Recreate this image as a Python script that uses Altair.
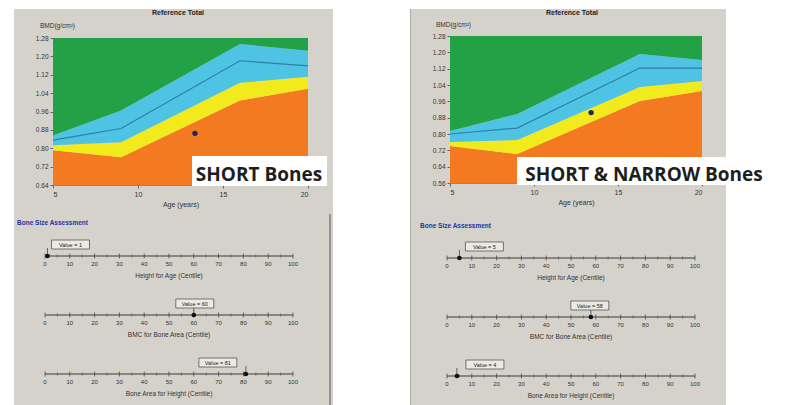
import altair as alt
import pandas as pd

# ---------------- data ----------------
bands = ["orange", "yellow", "cyan", "green"]
band_colors = ["#f47a21", "#f1ea1d", "#4ec3e3", "#22a146"]

xticks = [5, 10, 15, 20]
measures = ["Height for Age (Centile)", "BMC for Bone Area (Centile)", "Bone Area for Height (Centile)"]
centile_major = [0, 10, 20, 30, 40, 50, 60, 70, 80, 90, 100]
centile_minor = [5, 15, 25, 35, 45, 55, 65, 75, 85, 95]

left_ages = [5, 9, 16, 20]
left_orange = [0.791, 0.761, 1.008, 1.059]
left_yellow = [0.813, 0.826, 1.085, 1.111]
left_median = [0.835, 0.886, 1.181, 1.159]
left_cyan = [0.856, 0.964, 1.254, 1.224]
left_yticks = [0.64, 0.72, 0.80, 0.88, 0.96, 1.04, 1.12, 1.20, 1.28]
left_point_age = [13.35]
left_point_bmd = [0.865]
left_centiles = [1, 60, 81]
left_caption = "SHORT Bones"

right_ages = [5, 9, 16.3, 20]
right_orange = [0.741, 0.702, 0.962, 1.011]
right_yellow = [0.761, 0.771, 1.030, 1.060]
right_median = [0.800, 0.829, 1.123, 1.123]
right_cyan = [0.815, 0.898, 1.192, 1.162]
right_yticks = [0.56, 0.64, 0.72, 0.80, 0.88, 0.96, 1.04, 1.12, 1.20, 1.28]
right_point_age = [13.4]
right_point_bmd = [0.905]
right_centiles = [5, 58, 4]
right_caption = "SHORT & NARROW Bones"

# ---------------- layout (pixels inside each panel view) ----------------
left_geom = dict(width=319, height=397, plot_x=[39, 294], plot_y=[176, 29],
                 cent_x=[31, 279], cent_y=[247, 365], box_shift=[23, 1, -28],
                 title_xy=(164, 4), ytitle_xy=(26, 17), bsa_xy=(3, 214),
                 cap_box=(178, 313, 147, 177), cap_xy=(245, 166), border=True)
right_geom = dict(width=316, height=397, plot_x=[40, 292], plot_y=[174, 27],
                  cent_x=[37, 285], cent_y=[249, 367], box_shift=[25, -1, 28],
                  title_xy=(162, 4), ytitle_xy=(26, 16), bsa_xy=(10, 217),
                  cap_box=(107, 354, 148, 176), cap_xy=(234, 166), border=False)

FONT = "Liberation Sans"
TXT = "#333333"


def txt(s, x, y, **kw):
    kw.setdefault("font", FONT)
    return alt.Chart(pd.DataFrame({"t": [s]})).mark_text(**kw).encode(
        text="t:N", x=alt.value(x), y=alt.value(y))


def panel(ages, orange, yellow, median, cyan, yticks, pt_age, pt_bmd, centiles, caption, g):
    ylo, yhi = yticks[0], yticks[-1]
    n = len(ages)
    lows = [[ylo] * n, orange, yellow, cyan]
    highs = [orange, yellow, cyan, [yhi] * n]
    rows = []
    for b, lo, hi in zip(bands, lows, highs):
        for a, l, h in zip(ages, lo, hi):
            rows.append({"band": b, "age": a, "lo": l, "hi": h})
    adf = pd.DataFrame(rows)

    xs = alt.Scale(domain=[5, 20], range=g["plot_x"], nice=False, zero=False)
    ys = alt.Scale(domain=[ylo, yhi], range=g["plot_y"], nice=False, zero=False)

    area = alt.Chart(adf).mark_area(interpolate="linear").encode(
        x=alt.X("age:Q", scale=xs,
                axis=alt.Axis(values=xticks, orient="bottom", offset=g["plot_y"][0] - g["height"],
                              title="Age (years)", titleFontSize=7, titleFontWeight="normal",
                              titleFont=FONT, titlePadding=3, labelFontSize=7, labelFont=FONT,
                              labelColor=TXT, titleColor=TXT, grid=False, tickSize=3,
                              domainColor="#888888", tickColor="#666666", labelPadding=2)),
        y=alt.Y("lo:Q", scale=ys, stack=None,
                axis=alt.Axis(values=yticks, orient="left", offset=-g["plot_x"][0], format=".2f",
                              title=None, labelFontSize=6.5, labelFont=FONT, labelColor=TXT,
                              grid=False, tickSize=3, domainColor="#888888",
                              tickColor="#666666", labelPadding=2)),
        y2="hi:Q",
        color=alt.Color("band:N", scale=alt.Scale(domain=bands, range=band_colors), legend=None),
    )
    mdf = pd.DataFrame({"age": ages, "bmd": median})
    med = alt.Chart(mdf).mark_line(color="#2f7fa3", strokeWidth=1.2).encode(
        x=alt.X("age:Q", scale=xs), y=alt.Y("bmd:Q", scale=ys))
    pdf = pd.DataFrame({"age": pt_age, "bmd": pt_bmd})
    pt = alt.Chart(pdf).mark_point(filled=True, size=28, color="#1c2a5c", opacity=1).encode(
        x=alt.X("age:Q", scale=xs), y=alt.Y("bmd:Q", scale=ys))
    top = alt.layer(area, med, pt)

    # centile scales
    cx = alt.Scale(domain=[0, 100], range=g["cent_x"], nice=False, zero=False)
    cy = alt.Scale(type="point", domain=measures, range=g["cent_y"], padding=0)
    ppu = (g["cent_x"][1] - g["cent_x"][0]) / 100.0
    cdf = pd.DataFrame({"measure": measures, "value": centiles,
                        "lo": [0] * 3, "hi": [100] * 3, "mid": [50] * 3})
    cdf["box_lo"] = [v + (s - 19) / ppu for v, s in zip(centiles, g["box_shift"])]
    cdf["box_hi"] = [v + (s + 19) / ppu for v, s in zip(centiles, g["box_shift"])]
    cdf["box_mid"] = [v + s / ppu for v, s in zip(centiles, g["box_shift"])]
    cdf["label"] = ["Value = %d" % v for v in centiles]

    major = pd.DataFrame([{"measure": m, "c": c, "lab": str(c)} for m in measures for c in centile_major])
    minor = pd.DataFrame([{"measure": m, "c": c} for m in measures for c in centile_minor])

    line = alt.Chart(cdf).mark_rule(color="#3a3a3a", strokeWidth=1).encode(
        x=alt.X("lo:Q", scale=cx, axis=None), x2="hi:Q",
        y=alt.Y("measure:N", scale=cy, axis=None))
    tmaj = alt.Chart(major).mark_tick(orient="vertical", size=5, thickness=1, color="#3a3a3a").encode(
        x=alt.X("c:Q", scale=cx), y=alt.Y("measure:N", scale=cy))
    tmin = alt.Chart(minor).mark_tick(orient="vertical", size=3, thickness=1, color="#555555").encode(
        x=alt.X("c:Q", scale=cx), y=alt.Y("measure:N", scale=cy))
    tlab = alt.Chart(major).mark_text(font=FONT, fontSize=6, color=TXT, dy=8).encode(
        x=alt.X("c:Q", scale=cx), y=alt.Y("measure:N", scale=cy), text="lab:N")
    ttl = alt.Chart(cdf).mark_text(font=FONT, fontSize=6.5, color=TXT, dy=20).encode(
        x=alt.X("mid:Q", scale=cx), y=alt.Y("measure:N", scale=cy), text="measure:N")
    conn = alt.Chart(cdf).mark_tick(orient="vertical", size=8, thickness=1, color="#333333",
                                    yOffset=-4).encode(
        x=alt.X("value:Q", scale=cx), y=alt.Y("measure:N", scale=cy))
    box = alt.Chart(cdf).mark_rect(fill="#ebe9e3", stroke="#555555", strokeWidth=0.8,
                                   yOffset=-16, y2Offset=-7).encode(
        x=alt.X("box_lo:Q", scale=cx), x2="box_hi:Q",
        y=alt.Y("measure:N", scale=cy), y2="measure")
    blab = alt.Chart(cdf).mark_text(font=FONT, fontSize=5.5, color="#222222", dy=-11.5).encode(
        x=alt.X("box_mid:Q", scale=cx), y=alt.Y("measure:N", scale=cy), text="label:N")
    cpt = alt.Chart(cdf).mark_point(filled=True, size=22, color="#111111", opacity=1).encode(
        x=alt.X("value:Q", scale=cx), y=alt.Y("measure:N", scale=cy))
    bottom = alt.layer(line, tmin, tmaj, tlab, ttl, conn, box, blab, cpt)

    x0, x1, y0, y1 = g["cap_box"]
    capbox = alt.Chart(pd.DataFrame({"t": [caption]})).mark_rect(fill="white").encode(
        x=alt.value(x0), x2=alt.value(x1), y=alt.value(y0), y2=alt.value(y1))
    captxt = txt(caption, g["cap_xy"][0], g["cap_xy"][1], fontSize=19, fontWeight="bold",
                 color="#1e1e1e", font="Open Sans", baseline="middle", align="center")
    title = txt("Reference Total", g["title_xy"][0], g["title_xy"][1], fontSize=7,
                fontWeight="bold", color="#222222", baseline="middle", align="center")
    ytitle = txt("BMD(g/cm²)", g["ytitle_xy"][0], g["ytitle_xy"][1], fontSize=6.5,
                 color=TXT, baseline="middle", align="left")
    bsa = txt("Bone Size Assessment", g["bsa_xy"][0], g["bsa_xy"][1], fontSize=6.5,
              fontWeight="bold", color="#2236a3", baseline="middle", align="left")
    extras = [capbox, captxt, title, ytitle, bsa]
    if g["border"]:
        extras.append(alt.Chart(pd.DataFrame({"t": [0]})).mark_rule(color="#555555", strokeWidth=1).encode(
            x=alt.value(g["width"] - 3), y=alt.value(205), y2=alt.value(g["height"])))
    else:
        extras.append(alt.Chart(pd.DataFrame({"t": [0]})).mark_rule(color="#b0ada6", strokeWidth=1).encode(
            x=alt.value(0.5), y=alt.value(0), y2=alt.value(g["height"])))

    return alt.layer(top, bottom, *extras).resolve_scale(
        x="independent", y="independent", color="independent"
    ).properties(width=g["width"], height=g["height"])


left = panel(left_ages, left_orange, left_yellow, left_median, left_cyan, left_yticks,
             left_point_age, left_point_bmd, left_centiles, left_caption, left_geom)
right = panel(right_ages, right_orange, right_yellow, right_median, right_cyan, right_yticks,
              right_point_age, right_point_bmd, right_centiles, right_caption, right_geom)

chart = alt.hconcat(left, right, spacing=77, bounds="flush").properties(
    padding={"left": 6, "top": 0, "right": 0, "bottom": 0}
).configure(background="white").configure_view(fill="#d5d2cb", strokeWidth=0)

chart.save("out.html", embed_options={"renderer": "svg", "actions": False})
